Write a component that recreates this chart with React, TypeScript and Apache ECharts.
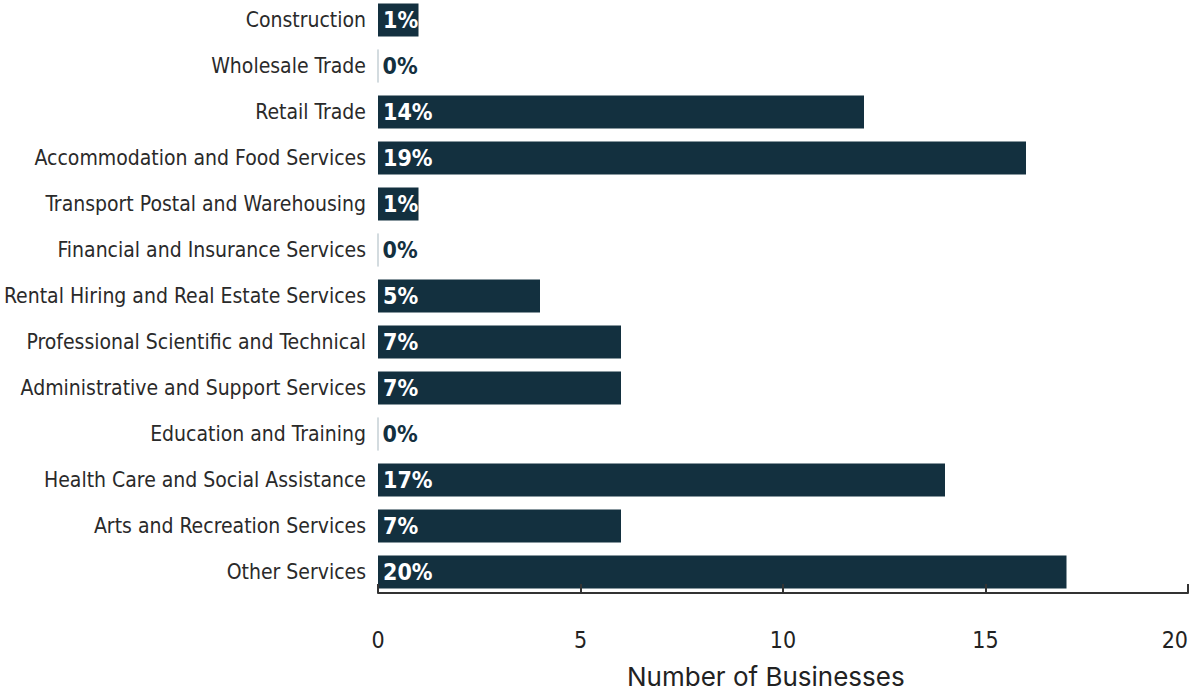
import React, { useEffect, useRef } from "react";
import * as echarts from "echarts";

const categories = [
  "Construction",
  "Wholesale Trade",
  "Retail Trade",
  "Accommodation and Food Services",
  "Transport Postal and Warehousing",
  "Financial and Insurance Services",
  "Rental Hiring and Real Estate Services",
  "Professional Scientific and Technical",
  "Administrative and Support Services",
  "Education and Training",
  "Health Care and Social Assistance",
  "Arts and Recreation Services",
  "Other Services",
];
const businessCounts = [1, 0, 12, 16, 1, 0, 4, 6, 6, 0, 14, 6, 17];
const percentLabels = ["1%", "0%", "14%", "19%", "1%", "0%", "5%", "7%", "7%", "0%", "17%", "7%", "20%"];
const xTicks = [0, 5, 10, 15, 20];
const axisTitle = "Number of Businesses";

const BAR = "#13303f";
const FONT = "'DejaVu Sans Condensed', 'Liberation Sans Narrow', 'Arial Narrow', sans-serif";

export default function App() {
  const ref = useRef<HTMLDivElement>(null);
  useEffect(() => {
    if (!ref.current) return;
    const chart = echarts.init(ref.current, undefined, { renderer: "svg" });
    const data = businessCounts.map((v, i) => ({
      value: v,
      itemStyle:
        v === 0
          ? { color: BAR, borderColor: "#c5d0d5", borderWidth: 1 }
          : { color: BAR },
      label: {
        color: v === 0 ? BAR : "#ffffff",
        formatter: percentLabels[i],
      },
    }));
    chart.setOption({
      animation: false,
      grid: { left: 378, right: 4, top: -3, height: 598, containLabel: false, outerBoundsMode: "none" },
      xAxis: {
        type: "value",
        min: xTicks[0],
        max: xTicks[xTicks.length - 1],
        interval: 5,
        offset: -2,
        z: 10,
        splitLine: { show: false },
        axisLine: { show: true, lineStyle: { color: "#333333", width: 2 } },
        axisTick: { show: true, inside: true, length: 9, lineStyle: { color: "#333333", width: 2 } },
        axisLabel: {
          margin: 35,
          color: "#222222",
          fontFamily: FONT,
          fontSize: 23,
          alignMaxLabel: "right",
        },
      },
      yAxis: {
        type: "category",
        data: categories,
        inverse: true,
        axisLine: { show: false },
        axisTick: { show: false },
        axisLabel: {
          margin: 12,
          color: "#2a2a2a",
          fontFamily: FONT,
          fontSize: 21,
          padding: [7, 0, 0, 0],
        },
      },
      series: [
        {
          type: "bar",
          data,
          barWidth: 33,
          label: {
            show: true,
            position: "insideLeft",
            distance: 5,
            fontFamily: FONT,
            fontWeight: "bold",
            fontSize: 23,
            padding: [3, 0, 0, 0],
          },
        },
      ],
      graphic: [
        {
          type: "text",
          left: 627,
          top: 663,
          style: {
            text: axisTitle,
            fontFamily: "Inter",
            fontSize: 26,
            fill: "#222222",
          },
        },
      ],
    });
    return () => chart.dispose();
  }, []);
  return <div ref={ref} style={{ width: 1192, height: 690, position: "absolute", left: 0, top: 0 }} />;
}
